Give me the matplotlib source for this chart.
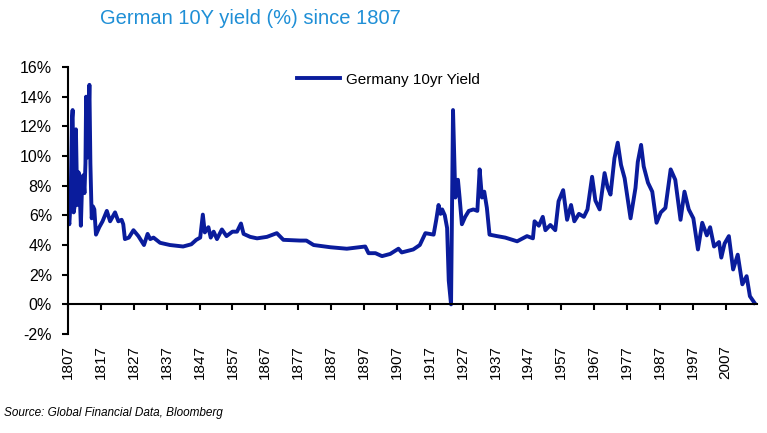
import matplotlib
matplotlib.use("Agg")
import matplotlib.pyplot as plt
import numpy as np

# German 10y yield (year, %)
years = [1807.0, 1807.4, 1807.8, 1808.2, 1808.4, 1808.7, 1809.0, 1809.4, 1809.8, 1810.2,
         1810.6, 1810.9, 1811.2, 1811.6, 1812.0, 1812.3, 1812.5, 1812.9, 1813.2, 1813.5,
         1813.8, 1814.2, 1814.6, 1815.0, 1815.5, 1816.5, 1817.5, 1818.8, 1819.8, 1821.3,
         1822.3, 1823.3, 1823.8, 1824.3, 1825.5, 1826.9, 1828.4, 1830.1, 1831.2, 1832.0,
         1833.0, 1835.0, 1838.0, 1842.0, 1844.5, 1846.0, 1847.2, 1848.0, 1848.6, 1849.7,
         1850.4, 1851.3, 1852.3, 1853.8, 1855.2, 1857.0, 1858.4, 1859.6, 1860.4, 1862.4,
         1864.5, 1867.5, 1870.5, 1872.5, 1877.6, 1879.5, 1881.7, 1886.8, 1891.8, 1897.4,
         1898.4, 1900.5, 1902.5, 1905.0, 1907.5, 1908.5, 1912.0, 1914.0, 1915.7, 1918.2,
         1919.0, 1919.7, 1920.3, 1920.8, 1921.6, 1922.3, 1922.8, 1923.5, 1924.1, 1924.8,
         1925.6, 1926.1, 1926.8, 1927.8, 1928.9, 1930.3, 1931.5, 1932.2, 1932.9, 1933.6,
         1934.4, 1935.2, 1937.5, 1940.0, 1943.6, 1946.6, 1948.4, 1948.9, 1950.2, 1951.4,
         1952.2, 1953.7, 1955.2, 1956.2, 1957.6, 1958.8, 1960.0, 1961.0, 1962.4, 1963.9,
         1965.0, 1966.4, 1967.4, 1968.7, 1970.2, 1971.1, 1972.0, 1973.2, 1974.2, 1975.2,
         1976.3, 1978.1, 1979.6, 1980.3, 1981.3, 1982.1, 1983.4, 1984.7, 1986.0, 1987.3,
         1988.7, 1990.3, 1991.7, 1993.3, 1994.5, 1995.8, 1997.2, 1998.6, 1999.9, 2001.3,
         2002.3, 2003.5, 2005.0, 2005.7, 2006.7, 2008.0, 2009.3, 2010.7, 2012.1, 2013.4,
         2014.4, 2015.8]
yields = [6.0, 5.4, 7.0, 12.5, 13.1, 6.2, 6.6, 11.8, 6.7, 8.9,
          7.2, 5.3, 7.5, 8.7, 7.5, 9.5, 14.0, 9.9, 12.0, 14.8,
          9.5, 5.8, 6.6, 6.4, 4.7, 5.2, 5.6, 6.3, 5.6, 6.2,
          5.6, 5.7, 5.4, 4.4, 4.5, 5.0, 4.6, 4.0, 4.75, 4.4,
          4.5, 4.15, 4.0, 3.9, 4.05, 4.35, 4.5, 6.05, 4.85, 5.2,
          4.5, 4.9, 4.4, 5.05, 4.6, 4.9, 4.9, 5.45, 4.75, 4.55,
          4.45, 4.55, 4.8, 4.35, 4.3, 4.3, 4.0, 3.85, 3.75, 3.9,
          3.45, 3.45, 3.25, 3.4, 3.75, 3.5, 3.7, 4.0, 4.8, 4.7,
          5.7, 6.7, 6.1, 6.4, 6.0, 5.15, 1.6, 0.0, 13.1, 7.2,
          8.4, 7.2, 5.4, 5.9, 6.3, 6.4, 6.3, 9.1, 7.2, 7.6,
          6.5, 4.7, 4.6, 4.5, 4.25, 4.6, 4.45, 5.6, 5.3, 5.9,
          5.0, 5.35, 5.0, 6.95, 7.7, 5.7, 6.7, 5.6, 6.1, 5.9,
          6.4, 8.6, 7.0, 6.4, 8.85, 7.9, 7.4, 9.85, 10.9, 9.4,
          8.5, 5.8, 7.85, 9.6, 10.75, 9.3, 8.2, 7.6, 5.5, 6.2,
          6.5, 9.1, 8.4, 5.7, 7.6, 6.4, 5.8, 3.7, 5.5, 4.65,
          5.2, 3.9, 4.2, 3.15, 4.1, 4.6, 2.35, 3.35, 1.35, 1.9,
          0.55, 0.1]

xticks = list(range(1807, 2008, 10))
yticks = list(range(-2, 17, 2))

plt.rcParams['font.family'] = ['Liberation Sans', 'DejaVu Sans']

fig = plt.figure(figsize=(7.67, 4.33), dpi=100)
ax = fig.add_axes([0.0887, 0.2286, 0.898, 0.6166])

ax.plot(years, yields, color='#0a1c9c', lw=2.8, label='Germany 10yr Yield',
        solid_joinstyle='round')

ax.spines['top'].set_visible(False)
ax.spines['right'].set_visible(False)
ax.spines['bottom'].set_position(('data', 0))
for s in ['left', 'bottom']:
    ax.spines[s].set_linewidth(1.5)

ax.set_xlim(1807, 2016.5)
ax.set_ylim(-2, 16)
ax.set_yticks(yticks)
ax.set_yticklabels([f"{v}%" for v in yticks])
ax.set_xticks(xticks)
ax.set_xticklabels([str(v) for v in xticks])

ax.tick_params(axis='y', direction='out', length=4.5, width=1.5, pad=7, labelsize=11.5)
ax.tick_params(axis='x', direction='out', length=4.5, width=1.5, pad=25, labelsize=11,
               labelrotation=90)
for lab in ax.get_xticklabels():
    lab.set_verticalalignment('top')

ax.legend(loc='upper center', bbox_to_anchor=(0.465, 1.03), frameon=False,
          fontsize=11, handlelength=2.8, handletextpad=0.4)

fig.text(100 / 767, 1 - 18 / 433, "German 10Y yield (%) since 1807",
         color='#1f8fd6', fontsize=14.5, va='center', ha='left')
fig.text(4 / 767, 1 - 413 / 433, "Source: Global Financial Data, Bloomberg",
         fontsize=8.5, style='italic', va='center', ha='left')

fig.savefig('out.png', dpi=100)
